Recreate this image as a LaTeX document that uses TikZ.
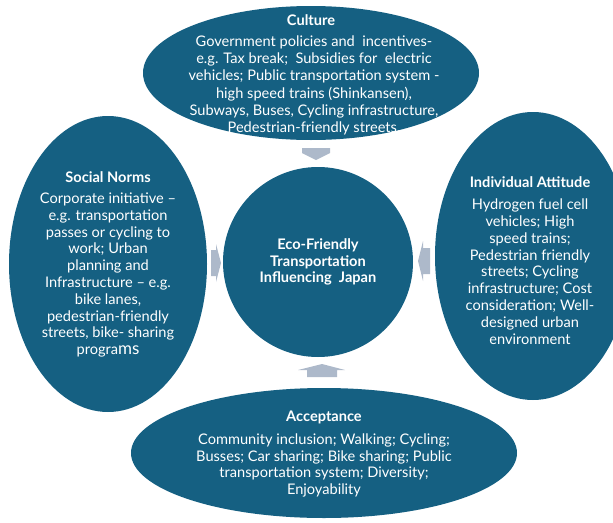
\documentclass[tikz,border=0pt]{standalone}
\usepackage{fontspec}
\setmainfont{Lato}
\usetikzlibrary{shapes.geometric}
\definecolor{blob}{HTML}{156082}
\definecolor{arr}{HTML}{ADB9CA}
\begin{document}
\begin{tikzpicture}[x=1pt,y=-1pt,
  blobshape/.style={ellipse, fill=blob, draw=none, inner sep=0pt, outer sep=0pt},
  bodytxt/.style={text=white, align=center, font=\fontsize{14.6}{16.8}\selectfont, inner sep=0pt},
  toptxt/.style={text=white, align=center, font=\fontsize{14.6}{17.3}\selectfont, inner sep=0pt},
  ttl/.style={text=white, align=center, font=\bfseries\fontsize{14.6}{16.2}\selectfont, inner sep=0pt},
  arrowshape/.style={fill=arr, draw=none}]
\clip (0,0) rectangle (613,522);
% arrows
\fill[arrowshape] (302,148) -- (330,148) -- (330,153) -- (316,160) -- (302,153) -- cycle;
\fill[arrowshape] (211,250) -- (216,250) -- (216,244) -- (221,263) -- (216,282) -- (216,276) -- (211,276) -- cycle;
\fill[arrowshape] (430,248) -- (423,248) -- (423,241) -- (418,261) -- (423,281) -- (423,274) -- (430,274) -- cycle;
\fill[arrowshape] (307,377) -- (307,370) -- (298,370) -- (322,364) -- (345,370) -- (337,370) -- (337,377) -- cycle;
% shapes
\node[blobshape, minimum width=336pt, minimum height=134pt] (culture) at (311,73) {};
\node[blobshape, minimum width=198pt, minimum height=296pt] (social) at (108,264) {};
\node[blobshape, minimum width=196pt, minimum height=288pt] (indiv) at (533,256) {};
\node[blobshape, minimum width=386pt, minimum height=130pt] (accept) at (324,453) {};
\node[circle, fill=blob, inner sep=0pt, minimum size=190pt] (eco) at (318,262) {};
% texts
\node[ttl] (cultureT) at (311,20) {Culture};
\node[toptxt] (cultureB) at (314,85.5) {Government policies and\ \ incentives-\\e.g. Tax break;\ \ Subsidies for\ \ electric\\vehicles; Public transportation system -\\high speed trains (Shinkansen),\\Subways, Buses, Cycling infrastructure,\\Pedestrian-friendly streets.};
\node[ttl] (socialT) at (108,177) {Social Norms};
\node[bodytxt] (socialB) at (108,275) {Corporate initiative --\\e.g. transportation\\passes or cycling to\\work; Urban\\planning and\\Infrastructure -- e.g.\\bike lanes,\\pedestrian-friendly\\streets, bike- sharing\\progra{\fontsize{17}{16.8}\selectfont ms}};
\node[ttl] (indivT) at (530,182) {Individual Attitude};
\node[bodytxt] (indivB) at (530,271.5) {Hydrogen fuel cell\\vehicles; High\\speed trains;\\Pedestrian friendly\\streets; Cycling\\infrastructure; Cost\\consideration; Well-\\designed urban\\environment};
\node[ttl] (ecoT) at (318,262) {Eco-Friendly\\Transportation\\Influencing\ \ Japan};
\node[ttl] (acceptT) at (324,417) {Acceptance};
\node[bodytxt] (acceptB) at (324,465.5) {Community inclusion; Walking; Cycling;\\Busses; Car sharing; Bike sharing; Public\\transportation system; Diversity;\\Enjoyability};
\end{tikzpicture}
\end{document}
